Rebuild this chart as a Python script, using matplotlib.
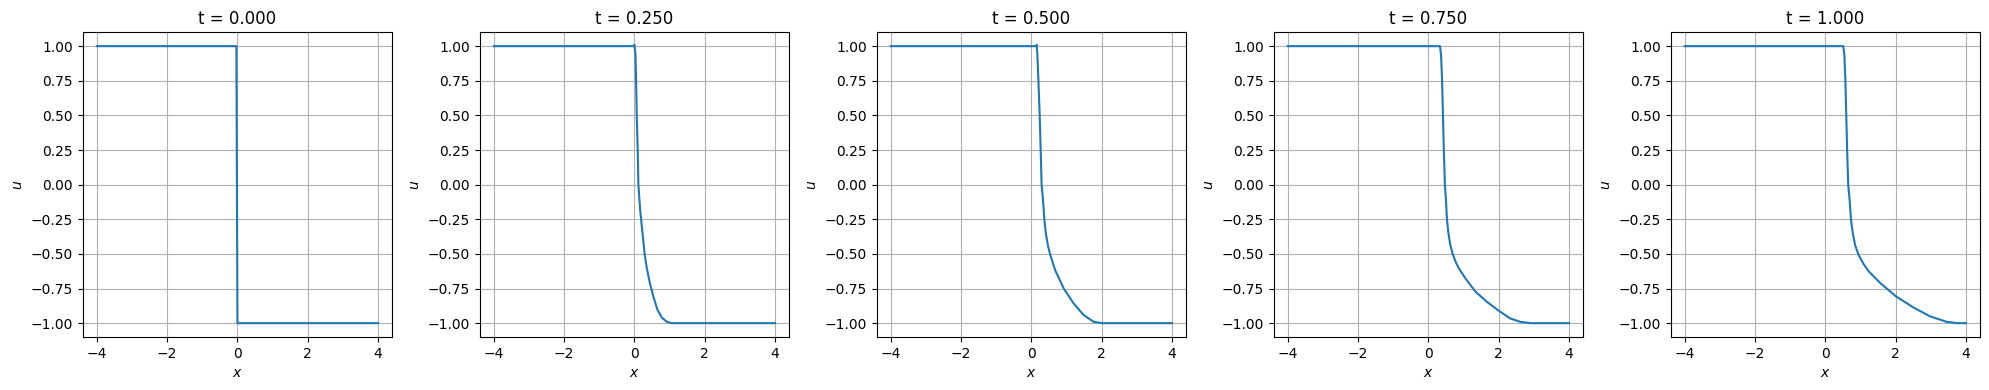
import matplotlib
matplotlib.use("Agg")
import matplotlib.pyplot as plt

times = [0.0, 0.25, 0.5, 0.75, 1.0]

x_t0 = [-4, -0.03, 0.0, 4]
u_t0 = [1, 1, -1, -1]

x_t1 = [-4, -0.03, 0.0, 0.03, 0.047, 0.066, 0.094, 0.113, 0.14, 0.17, 0.21, 0.25, 0.29,
        0.35, 0.43, 0.53, 0.65, 0.78, 0.92, 1.05, 4]
u_t1 = [1, 1, 1.01, 0.94, 0.75, 0.5, 0.25, 0.0, -0.10, -0.20, -0.30, -0.40, -0.50,
        -0.60, -0.70, -0.80, -0.90, -0.96, -0.99, -1.0, -1.0]

x_t2 = [-4, 0.13, 0.15, 0.17, 0.20, 0.236, 0.264, 0.29, 0.33, 0.37, 0.41, 0.47, 0.54,
        0.68, 0.92, 1.20, 1.48, 1.77, 2.0, 4]
u_t2 = [1, 1, 1.01, 0.94, 0.75, 0.5, 0.25, 0.0, -0.11, -0.255, -0.35, -0.44, -0.51,
        -0.62, -0.75, -0.857, -0.94, -0.99, -1.0, -1.0]

x_t3 = [-4, 0.33, 0.36, 0.39, 0.415, 0.44, 0.47, 0.50, 0.53, 0.57, 0.62, 0.69, 0.78,
        0.88, 1.05, 1.33, 1.66, 2.0, 2.32, 2.61, 2.9, 4]
u_t3 = [1, 1, 0.94, 0.75, 0.5, 0.25, 0.0, -0.11, -0.255, -0.35, -0.43, -0.50, -0.56,
        -0.61, -0.675, -0.77, -0.845, -0.91, -0.965, -0.99, -1.0, -1.0]

x_t4 = [-4, 0.51, 0.54, 0.57, 0.595, 0.62, 0.65, 0.69, 0.73, 0.78, 0.85, 0.95, 1.08,
        1.23, 1.56, 2.0, 2.5, 2.97, 3.44, 3.75, 4]
u_t4 = [1, 1, 0.94, 0.75, 0.5, 0.25, 0.0, -0.11, -0.255, -0.35, -0.44, -0.51, -0.57,
        -0.625, -0.71, -0.805, -0.886, -0.95, -0.99, -1.0, -1.0]

xs = [x_t0, x_t1, x_t2, x_t3, x_t4]
us = [u_t0, u_t1, u_t2, u_t3, u_t4]

fig, axes = plt.subplots(1, 5, figsize=(19.89, 3.9), dpi=100)
fig.subplots_adjust(left=0.0416, right=0.9955, bottom=0.1359, top=0.9172, wspace=0.283)
for ax, t, x, u in zip(axes, times, xs, us):
    ax.plot(x, u, color="tab:blue")
    ax.set_title(f"t = {t:.3f}")
    ax.set_xlabel("$x$")
    ax.set_ylabel("$u$")
    ax.set_ylim(-1.1, 1.1)
    ax.grid(True)
fig.savefig("out.png", dpi=100)
